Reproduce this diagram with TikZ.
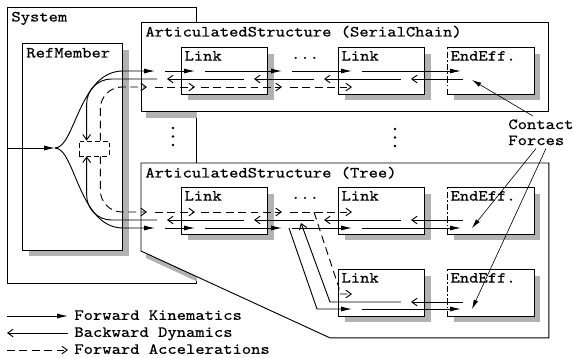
\documentclass[tikz,border=0pt]{standalone}
\usepackage{fontspec}
\setmonofont{Latin Modern Mono}[FakeStretch=1.143, FakeBold=0.5]
\usetikzlibrary{arrows.meta,calc,positioning,shadows}

\tikzset{
  txt/.style={font=\ttfamily, inner sep=2pt, text height=6.5pt, text depth=1.5pt},
  title/.style={txt, anchor=north west},
  frame/.style={draw, line width=0.6pt, anchor=north west, inner sep=0pt},
  stipple/.style={fill=black!30},
  link/.style={txt, draw, line width=0.6pt, fill=white, anchor=north west, align=left,
    text width=51.5pt, text depth=19.8pt,
    general shadow={stipple, shadow xshift=3.9pt, shadow yshift=-3.9pt}},
  endeff/.style={link, draw=none},
  fk/.style={line width=0.6pt, -{Latex[length=7pt,width=3.2pt]}},
  bd/.style={line width=0.6pt, -{Straight Barb[length=3.5pt,width=5pt]}},
  fa/.style={line width=0.6pt, dash pattern=on 5pt off 3pt, -{Straight Barb[length=3.5pt,width=5pt]}},
  force/.style={line width=0.4pt, -{Latex[length=6pt,width=3pt]}},
}

\begin{document}
\begin{tikzpicture}[x=0.645pt, y=-0.645pt]
\useasboundingbox (0,0) rectangle (573,357);

% frames
\node[frame, minimum width=121.9pt, minimum height=178pt] (sys) at (7,7) {};
\node[title] (syst) at ($(sys.north west)+(1,1)$) {System};
\node[frame, draw=none, minimum width=262.5pt, minimum height=56.8pt] (as1) at (141,22) {};
\node[frame, draw=none, minimum width=262.5pt, minimum height=112.2pt] (as2) at (141,163) {};

% shadows fall on the System panel only
\begin{scope}
  \clip (sys.north west) rectangle (sys.south east);
  \fill[stipple] ($(as1.north west)+(5,7)$) rectangle ($(as1.south east)+(5,7)$);
  \fill[stipple] ($(as2.north west)+(5,7)$) -- ($(as2.north east)+(5,7)$) -- ($(as2.south east)+(5,7)$)
    -- ($(as2.south west)+(194,7)$) -- ($(as2.north west)+(5,95)$) -- cycle;
\end{scope}
\draw[line width=0.6pt, fill=white] (as1.north west) rectangle (as1.south east);
\draw[line width=0.6pt, fill=white] (as2.north west) -- (as2.north east) -- (as2.south east)
  -- ($(as2.south west)+(189,0)$) -- ($(as2.north west)+(0,88)$) -- cycle;
\node[title] (as1t) at ($(as1.north west)+(1,1)$) {ArticulatedStructure (SerialChain)};
\node[title] (as2t) at ($(as2.north west)+(1,1)$) {ArticulatedStructure (Tree)};

\node[frame, fill=white, minimum width=64.5pt, minimum height=133.5pt,
  general shadow={stipple, shadow xshift=3.9pt, shadow yshift=-3.9pt}] (refm) at (22,43) {};
\node[title] (refmt) at ($(refm.north west)+(1,1)$) {RefMember};

% links
\node[link] (s1) at (181,47) {Link};
\node[link] (s2) at (338,47) {Link};
\node[endeff] (s3) at (447,47) {EndEff.};
\node[link] (t1) at (181,187) {Link};
\node[link] (t2) at (338,187) {Link};
\node[endeff] (t3) at (447,187) {EndEff.};
\node[link] (t4) at (338,269) {Link};
\node[endeff] (t5) at (447,269) {EndEff.};
\foreach \e in {s3,t3,t5} {
  \draw[line width=0.6pt] (\e.north west) -- (\e.north east) -- (\e.south east) -- (\e.south west);
  \draw[line width=0.6pt, dash pattern=on 4pt off 1.5pt on 1pt off 1.5pt] (\e.south west) -- (\e.north west);
}

\node[txt] (dotA) at (305,55) {...};
\node[txt] (dotT) at (305,195) {...};
\foreach \k in {0,1,2} {
  \fill (173,128+8.5*\k) circle (0.9pt);
  \fill (395,129+8.5*\k) circle (0.9pt);
}

% rows
\coordinate (fkA) at ($(s1.north west)+(0,24)$);
\coordinate (bdA) at ($(s1.north west)+(0,32)$);
\coordinate (faA) at ($(s1.north west)+(0,40)$);
\coordinate (faT) at ($(t1.north west)+(0,25)$);
\coordinate (bdT) at ($(t1.north west)+(0,33)$);
\coordinate (fkT) at ($(t1.north west)+(0,41)$);
\coordinate (faL) at ($(t4.north west)+(0,25)$);
\coordinate (bdL) at ($(t4.north west)+(0,33)$);
\coordinate (fkL) at ($(t4.north west)+(0,40)$);

\node[draw, line width=0.4pt, densely dashed, minimum width=19.4pt, minimum height=9.7pt, inner sep=0pt] (sum) at (94,148.5) {};
\coordinate (split) at (55,148);
\draw[fk] (sys.west |- split) -- (split);

% forward kinematics
\draw[fk] (split) .. controls +(20,0) and +(-44,0) .. (fkA -| refm.east) -- ($(fkA -| as1.west)+(14,0)$);
\foreach \p/\q in {as1.west/s1.west, s1.west/s1.east, s1.east/s2.west, s2.west/s3.west}
  \draw[fk] ($(fkA -| \p)+(24,0)$) -- ($(fkA -| \q)+(14,0)$);
\draw[fk] (split) .. controls +(20,0) and +(-44,0) .. (fkT -| refm.east) -- ($(fkT -| as2.west)+(14,0)$);
\foreach \p/\q in {as2.west/t1.west, t1.west/t1.east, t1.east/t2.west, t2.west/t3.west}
  \draw[fk] ($(fkT -| \p)+(24,0)$) -- ($(fkT -| \q)+(14,0)$);
\draw[fk] ($(fkT -| t1.east)+(21,0)$) -- ($(fkL -| t4.west)+(-21,0)$) -- ($(fkL -| t4.west)+(14,0)$);
\draw[fk] ($(fkL -| t4.west)+(24,0)$) -- ($(fkL -| t5.west)+(14,0)$);

% backward dynamics
\foreach \p/\q/\off in {s3.west/s2.east/16, s2.east/s2.west/-24, s2.west/s1.east/-24, s1.east/s1.west/-24}
  \draw[bd] ($(bdA -| \p)+(\off,0)$) -- ($(bdA -| \q)+(-14,0)$);
\draw[bd, rounded corners=16pt] ($(bdA -| s1.west)+(-24,0)$) -| ($(sum.north west)+(8,0)$);
\foreach \p/\q/\off in {t3.west/t2.east/16, t2.east/t2.west/-24, t2.west/t1.east/-24, t1.east/t1.west/-24}
  \draw[bd] ($(bdT -| \p)+(\off,0)$) -- ($(bdT -| \q)+(-14,0)$);
\draw[bd, rounded corners=16pt] ($(bdT -| t1.west)+(-24,0)$) -| ($(sum.south west)+(8,0)$);
\draw[bd] ($(bdL -| t5.west)+(16,0)$) -- ($(bdL -| t4.east)+(-14,0)$);
\draw[bd] ($(bdL -| t4.east)+(-24,0)$) -- ($(bdL -| t4.west)+(-8,0)$) -- ($(bdT -| t1.east)+(33,3)$);

% forward accelerations
\draw[fa, rounded corners=14pt] ($(sum.north east)+(-9,0)$) |- ($(faA -| as1.west)+(6,0)$);
\foreach \p/\q/\off in {as1.west/s1.west/14, s1.west/s1.east/20, s1.east/s2.west/22}
  \draw[fa] ($(faA -| \p)+(\off,0)$) -- ($(faA -| \q)+(14,0)$);
\draw[fa, rounded corners=14pt] ($(sum.south east)+(-9,0)$) |- ($(faT -| as2.west)+(6,0)$);
\foreach \p/\q/\off in {as2.west/t1.west/14, t1.west/t1.east/20, t1.east/t2.west/22}
  \draw[fa] ($(faT -| \p)+(\off,0)$) -- ($(faT -| \q)+(14,0)$);
\draw[fa] ($(faT -| t1.east)+(46,0)$) -- ($(faL -| t4.west)+(1,-6)$) |- ($(faL -| t4.west)+(14,0)$);

% contact forces
\node[font=\ttfamily, inner sep=2pt, align=left, anchor=north west] (contact) at (505,116) {Contact\\[-1.7pt]Forces};
\draw[force] ($(contact.north)+(-8,0)$) -- ($(bdA -| s3.west)+(25,1)$);
\draw[force] ($(contact.south)+(-5,0)$) -- ($(bdT -| t3.west)+(25,8)$);
\draw[force] ($(contact.south)+(5,0)$) -- ($(bdL -| t5.west)+(25,7)$);

% legend
\node[txt, anchor=west] (lgfk) at (71,316) {Forward Kinematics};
\node[txt, anchor=west] (lgbd) at (71,333) {Backward Dynamics};
\node[txt, anchor=west] (lgfa) at (71,350) {Forward Accelerations};
\draw[fk] ($(lgfk.west)+(-64,0)$) -- ($(lgfk.west)+(-3,0)$);
\draw[bd] ($(lgbd.west)+(-3,0)$) -- ($(lgbd.west)+(-64,0)$);
\draw[fa] ($(lgfa.west)+(-64,0)$) -- ($(lgfa.west)+(-3,0)$);
\end{tikzpicture}
\end{document}
